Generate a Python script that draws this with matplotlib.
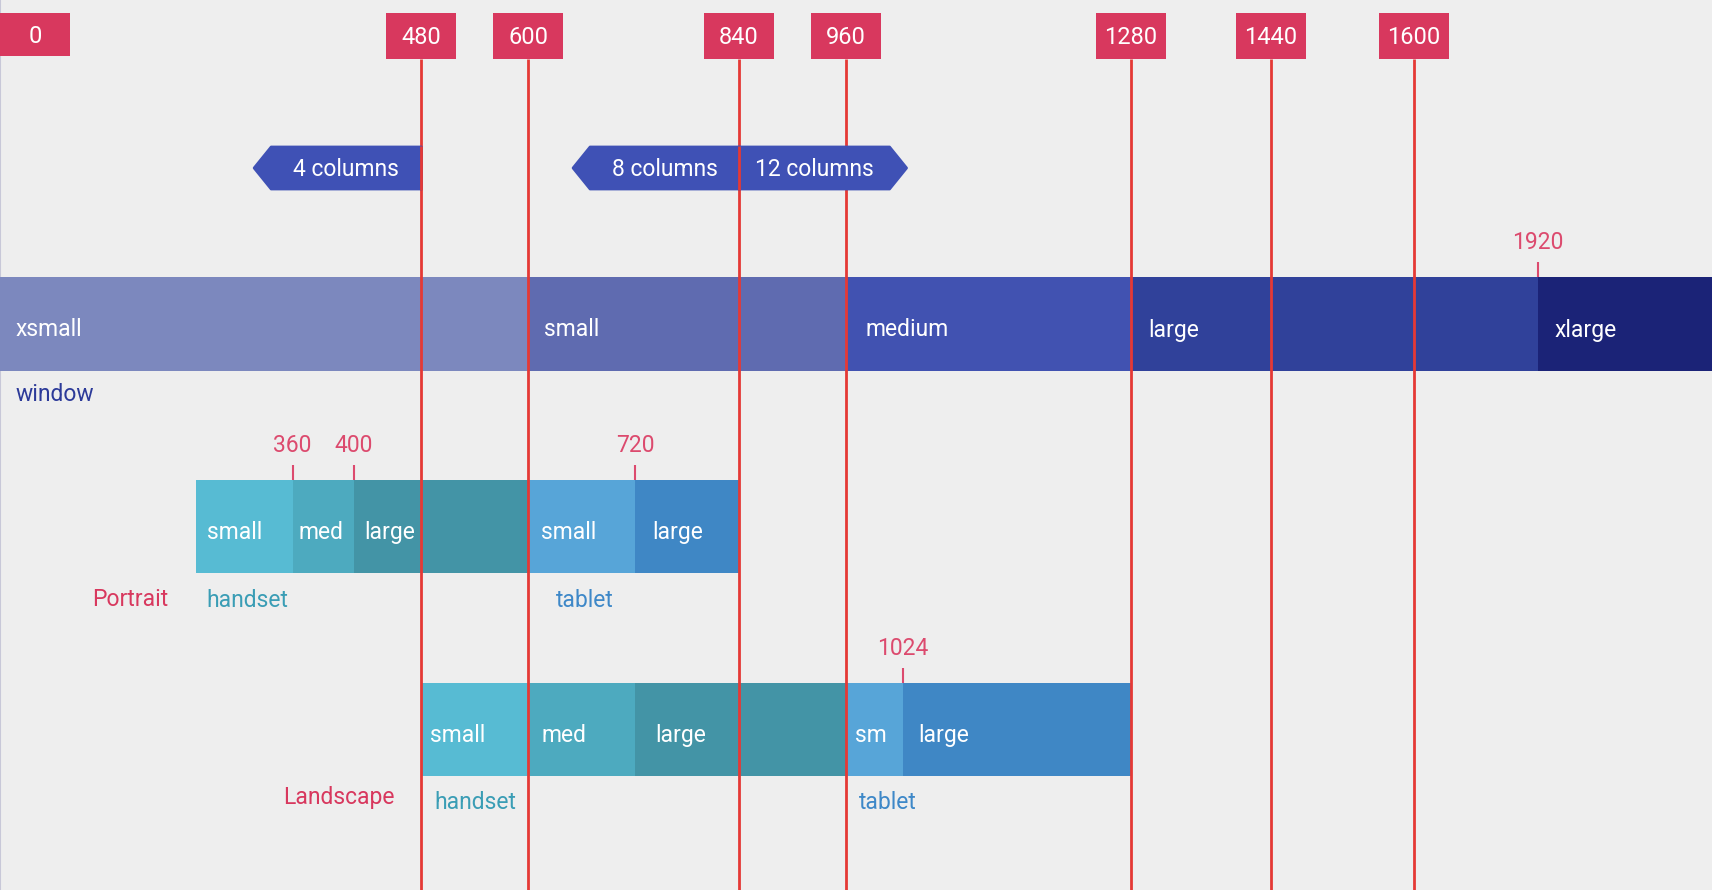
import matplotlib.pyplot as plt
import numpy as np
from matplotlib.patches import Polygon

plt.rcParams['font.family'] = ['Roboto', 'DejaVu Sans']

# breakpoints (dp) marked with red lines
breakpoints = [0, 480, 600, 840, 960, 1280, 1440, 1600]

# window size classes
window_names = ['xsmall', 'small', 'medium', 'large', 'xlarge']
window_starts = [0, 600, 960, 1280, 1920]
window_end = 2240
window_marks = [1920]

# portrait devices
portrait_names = ['small', 'med', 'large', 'small', 'large']
portrait_starts = [320, 360, 400, 600, 720]
portrait_end = 840
portrait_marks = [360, 400, 720]

# landscape devices
landscape_names = ['small', 'med', 'large', 'sm', 'large']
landscape_starts = [480, 600, 720, 960, 1024]
landscape_end = 1280
landscape_marks = [1024]

# grid column badges
column_labels = ['4 columns', '8 columns', '12 columns']
column_spans = [(344, 480), (650, 840), (840, 1028)]

# the diagram is schematic: piecewise-linear dp -> pixel scale
knot_dp = [0, 320, 360, 400, 480, 600, 720, 840, 960, 1024, 1280, 1440, 1600, 1920, 2240]
knot_px = [0, 196.5, 292.6, 353.7, 421.5, 528.5, 635.5, 739, 846, 903, 1131, 1271, 1414, 1538, 1712]


def fwd(x):
    return np.interp(x, knot_dp, knot_px)


def inv(p):
    return np.interp(p, knot_px, knot_dp)


def shift(x, px):
    # move a dp position by a number of pixels
    return float(inv(fwd(x) + px))


RED_BOX = '#D8385E'
RED_LINE = '#E53935'
TICK = '#DC4A6E'
BADGE = '#3F51B5'

window_colors = ['#7C88BE', '#5F6BB0', '#4152B1', '#30419A', '#1B2377']
handset_colors = ['#57BBD3', '#4DAABF', '#4394A6']
tablet_colors = ['#57A5D8', '#3F87C5']

fig = plt.figure(figsize=(17.12, 8.9), dpi=100)
fig.patch.set_facecolor('#EEEEEE')
ax = fig.add_axes([0, 0, 1, 1])
ax.set_facecolor('#EEEEEE')
ax.set_xscale('function', functions=(fwd, inv))
ax.set_xlim(0, 2240)
ax.set_ylim(890, 0)
ax.axis('off')

FS = 16.5
NFS = 16.5


def draw_row(starts, end, names, colors, ymid, h, offsets, marks):
    starts = np.array(starts, dtype=float)
    ends = np.append(starts[1:], end)
    ax.barh(ymid, ends - starts, left=starts, height=h, color=colors,
            edgecolor='none', zorder=2)
    for s, n, o in zip(starts, names, offsets):
        ax.text(shift(s, o), ymid + 12.5, n, color='white',
                fontsize=FS, va='baseline', ha='left', zorder=3)
    top = ymid - h / 2
    ax.vlines(marks, top - 15, top, color=TICK, lw=1.5, zorder=2)
    for m in marks:
        ax.text(m, top - 28, str(m), color=TICK, fontsize=NFS,
                ha='center', va='baseline')


# window row
draw_row(window_starts, window_end, window_names, window_colors,
         324, 94, [16, 16, 20, 17, 17], window_marks)
ax.text(shift(0, 16), 401, 'window', color='#2C3A99', fontsize=FS, va='baseline')

# portrait row
draw_row(portrait_starts, portrait_end, portrait_names,
         handset_colors + tablet_colors, 526.7, 93, [11, 5.5, 11, 13, 16.5],
         portrait_marks)
ax.text(shift(portrait_starts[0], 10), 607, 'handset', color='#3A9DB5',
        fontsize=FS, va='baseline')
ax.text(shift(portrait_starts[3], 27), 607, 'tablet', color='#3E88C8',
        fontsize=FS, va='baseline')
ax.text(shift(portrait_starts[0], -28), 606, 'Portrait', color=RED_BOX,
        fontsize=FS, va='baseline', ha='right')

# landscape row
draw_row(landscape_starts, landscape_end, landscape_names,
         handset_colors + tablet_colors, 729.8, 93, [9, 13, 19.5, 9, 15],
         landscape_marks)
ax.text(shift(landscape_starts[0], 13), 809, 'handset', color='#3A9DB5',
        fontsize=FS, va='baseline')
ax.text(shift(landscape_starts[3], 13), 809, 'tablet', color='#3E88C8',
        fontsize=FS, va='baseline')
ax.text(shift(landscape_starts[0], -27), 804, 'Landscape', color=RED_BOX,
        fontsize=FS, va='baseline', ha='right')

# column badges (drawn over the red lines, except the 840 divider)
TIP = 17
btop, bbot = 147, 189
bmid = (btop + bbot) / 2
for i, (lab, (a, b)) in enumerate(zip(column_labels, column_spans)):
    pa, pb = fwd(a), fwd(b)
    if i != 2:
        pts = [(pa, bmid), (pa + TIP, btop), (pb, btop), (pb, bbot), (pa + TIP, bbot)]
        cx = (pa + TIP + pb) / 2
    else:
        pts = [(pa, btop), (pb - TIP, btop), (pb, bmid), (pb - TIP, bbot), (pa, bbot)]
        cx = (pa + pb - TIP) / 2
    verts = [(float(inv(px)), py) for px, py in pts]
    ax.add_patch(Polygon(verts, closed=True, facecolor=BADGE, edgecolor=BADGE,
                         lw=2, joinstyle='round', zorder=6))
    ax.text(float(inv(cx)), bmid + 8, lab, color='white', fontsize=FS,
            ha='center', va='baseline', zorder=7)
ax.vlines([480, 840], btop - 1, bbot + 1, colors=RED_LINE, lw=2, zorder=7)

# breakpoint lines and labels
ax.axvline(0, color='#C8C8D8', lw=1.5, zorder=1)
ax.vlines(breakpoints[1:], 59, 890, colors=RED_LINE, lw=2, zorder=5)
for b in breakpoints:
    c = max(float(fwd(b)), 35)
    left, right = float(inv(c - 35)), float(inv(c + 35))
    bot = 56 if b == 0 else 59
    ax.bar(left, bot - 13, width=right - left, bottom=13, align='edge',
           color=RED_BOX, edgecolor='none', zorder=6)
    ax.text(float(inv(c)), (13 + bot) / 2 + 8.5, str(b), color='white',
            fontsize=17, ha='center', va='baseline', zorder=7)

fig.savefig('out.png', dpi=100, facecolor=fig.get_facecolor())
